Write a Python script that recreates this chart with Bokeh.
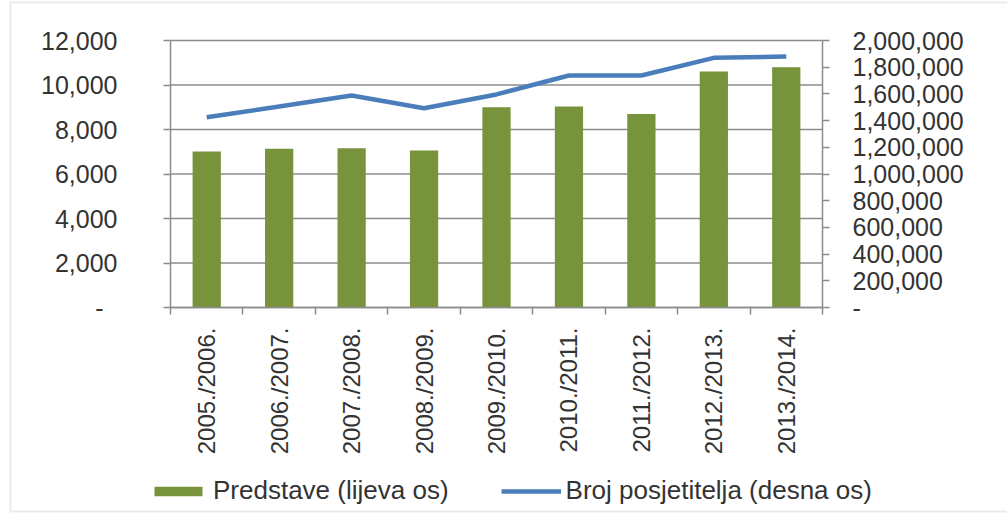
import math
from bokeh.plotting import figure
from bokeh.models import (Range1d, LinearAxis, FixedTicker, NumeralTickFormatter,
                          Legend, LegendItem, BoxAnnotation)
from bokeh.embed import file_html
from bokeh.resources import INLINE

seasons = ["2005./2006.", "2006./2007.", "2007./2008.", "2008./2009.", "2009./2010.",
           "2010./2011.", "2011./2012.", "2012./2013.", "2013./2014."]
predstave = [7010, 7130, 7160, 7060, 9000, 9030, 8700, 10610, 10800]
posjetitelji = [1425000, 1505000, 1588000, 1493000, 1596000, 1738000, 1738000, 1870000, 1880000]
left_ticks = [0, 2000, 4000, 6000, 8000, 10000, 12000]
right_ticks = [0, 200000, 400000, 600000, 800000, 1000000, 1200000, 1400000,
               1600000, 1800000, 2000000]

FONT = "Liberation Sans"
TXT = "#333333"
GRID = "#8c8c8c"

W, H = 1007, 521
# pixel layout of the plotting area inside the canvas
PX_L, PX_R, PX_T, PX_B = 170, 822, 40, 307
n = len(seasons)
LMAX, RMAX = left_ticks[-1], right_ticks[-1]

xs = n / (PX_R - PX_L)
ys = LMAX / (PX_B - PX_T)
x_range = Range1d(-PX_L * xs, n + (W - PX_R) * xs)
y_range = Range1d(-(H - PX_B) * ys, LMAX + PX_T * ys)
k = RMAX / LMAX
r_range = Range1d(y_range.start * k, y_range.end * k)

centers = [i + 0.5 for i in range(n)]
bounds = list(range(n + 1))

p = figure(width=W, height=H, output_backend="svg", toolbar_location=None,
           x_range=x_range, y_range=y_range, min_border=0,
           x_axis_location=None, y_axis_location=None)
p.extra_y_ranges = {"right": r_range}
p.outline_line_color = None
p.background_fill_color = "white"
p.border_fill_color = "white"
p.xgrid.visible = False
p.ygrid.visible = False

# horizontal gridlines of the plotting area
p.segment(x0=[0] * len(left_ticks), x1=[n] * len(left_ticks), y0=left_ticks, y1=left_ticks,
          line_color=GRID, line_width=1.5)

bars = p.vbar(x=centers, top=predstave, width=0.39, fill_color="#77933C",
              line_color=None)
line = p.line(x=centers, y=posjetitelji, y_range_name="right", line_width=4.5,
              line_color="#4A7EBB", line_join="round")

# x axis
xax = LinearAxis(ticker=FixedTicker(ticks=centers, minor_ticks=bounds),
                 fixed_location=0, bounds=(0, n))
xax.major_label_overrides = {c: s for c, s in zip(centers, seasons)}
xax.major_label_orientation = math.pi / 2
xax.major_tick_out = 0
xax.major_tick_in = 0
xax.minor_tick_out = 7
xax.minor_tick_in = 0
xax.minor_tick_line_color = GRID
xax.minor_tick_line_width = 1.5
xax.axis_line_color = GRID
xax.axis_line_width = 1.5
xax.major_label_standoff = 13
xax.major_label_text_font = FONT
xax.major_label_text_font_size = "24px"
xax.major_label_text_color = TXT
p.add_layout(xax, "below")

# left axis
lax = LinearAxis(ticker=FixedTicker(ticks=left_ticks, minor_ticks=[]),
                 formatter=NumeralTickFormatter(format="0,0"),
                 fixed_location=0, bounds=(0, LMAX))
lax.major_label_overrides = {0: "-\u00a0\u00a0"}
lax.major_tick_out = 7
lax.major_tick_in = 0
lax.major_tick_line_color = GRID
lax.major_tick_line_width = 1.5
lax.axis_line_color = GRID
lax.axis_line_width = 1.5
lax.major_label_standoff = 46
lax.major_label_text_font = FONT
lax.major_label_text_font_size = "25px"
lax.major_label_text_color = TXT
p.add_layout(lax, "left")

# right axis
rax = LinearAxis(y_range_name="right", ticker=FixedTicker(ticks=right_ticks, minor_ticks=[]),
                 formatter=NumeralTickFormatter(format="0,0"),
                 fixed_location=n, bounds=(0, RMAX))
rax.major_label_overrides = {0: "-"}
rax.major_tick_out = 7
rax.major_tick_in = 0
rax.major_tick_line_color = GRID
rax.major_tick_line_width = 1.5
rax.axis_line_color = GRID
rax.axis_line_width = 1.5
rax.major_label_standoff = 23
rax.major_label_text_font = FONT
rax.major_label_text_font_size = "25px"
rax.major_label_text_color = TXT
p.add_layout(rax, "right")

legend = Legend(items=[LegendItem(label="Predstave (lijeva os)", renderers=[bars]),
                       LegendItem(label="Broj posjetitelja (desna os)", renderers=[line])],
                orientation="horizontal", location=(148, 15),
                glyph_width=60, glyph_height=12, label_standoff=5, spacing=52,
                padding=0, margin=0, border_line_color=None, background_fill_alpha=0,
                label_text_font=FONT, label_text_font_size="26px", label_text_color=TXT)
p.add_layout(legend, "center")

frame_box = BoxAnnotation(left=10, right=W + 20, top=10, bottom=519,
                          left_units="screen", right_units="screen",
                          top_units="screen", bottom_units="screen",
                          fill_color=None, line_color="#b8b8b8", line_width=2)
p.add_layout(frame_box)

open("out.html", "w").write(file_html(p, INLINE))
